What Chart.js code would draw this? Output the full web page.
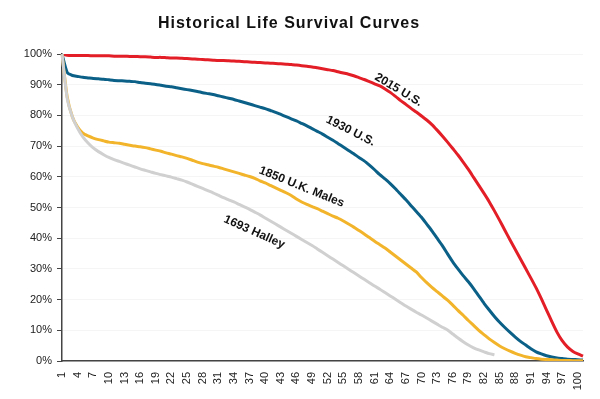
<!DOCTYPE html>
<html>
<head>
<meta charset="utf-8">
<script src="https://cdn.jsdelivr.net/npm/chart.js@4/dist/chart.umd.min.js"></script>
<style>
  html, body { margin: 0; padding: 0; background: #ffffff; }
  #wrap { width: 600px; height: 399px; position: relative; }
</style>
</head>
<body>
<div id="wrap"><canvas id="c" width="600" height="399"></canvas></div>
<script>
// Ages (categories)
const ages = [];
for (let a = 1; a <= 101; a++) ages.push(a);

const titleText = 'Historical Life Survival Curves';

const seriesNames = ['2015 U.S.', '1930 U.S.', '1850 U.K. Males', '1693 Halley'];

const us2015 = [100, 99.6, 99.5, 99.5, 99.5, 99.5, 99.4, 99.4, 99.4, 99.4,
  99.3, 99.3, 99.3, 99.2, 99.2, 99.1, 99.1, 99.0, 98.9, 98.9,
  98.8, 98.7, 98.7, 98.6, 98.5, 98.4, 98.3, 98.2, 98.1, 98.0,
  97.9, 97.9, 97.8, 97.7, 97.6, 97.5, 97.4, 97.3, 97.2, 97.1,
  97.0, 96.9, 96.8, 96.7, 96.6, 96.4, 96.2, 96.0, 95.8, 95.5,
  95.2, 94.9, 94.6, 94.2, 93.8, 93.4, 92.9, 92.3, 91.7, 91.0,
  90.3, 89.6, 88.6, 87.5, 86.2, 84.8, 83.6, 82.3, 81.1, 79.8,
  78.5, 77.0, 75.2, 73.3, 71.3, 69.2, 67.1, 64.8, 62.4, 59.8,
  57.2, 54.6, 51.9, 48.9, 45.8, 42.6, 39.4, 36.3, 33.2, 30.1,
  27.0, 23.8, 20.3, 16.6, 12.9, 9.4, 6.6, 4.6, 3.2, 2.3,
  1.6];

const us1930 = [100, 94.0, 93.0, 92.7, 92.4, 92.2, 92.0, 91.9, 91.8, 91.6,
  91.4, 91.3, 91.2, 91.1, 91.0, 90.7, 90.5, 90.3, 90.1, 89.8,
  89.5, 89.3, 89.0, 88.7, 88.4, 88.1, 87.8, 87.4, 87.1, 86.8,
  86.4, 86.0, 85.6, 85.2, 84.7, 84.2, 83.7, 83.2, 82.7, 82.2,
  81.6, 81.0, 80.3, 79.6, 78.9, 78.2, 77.4, 76.6, 75.7, 74.8,
  73.9, 72.9, 71.9, 70.8, 69.7, 68.6, 67.5, 66.3, 65.2, 63.8,
  62.3, 60.7, 59.3, 57.8, 56.1, 54.3, 52.5, 50.6, 48.7, 46.8,
  44.6, 42.4, 40.0, 37.6, 34.9, 32.3, 30.0, 27.8, 25.8, 23.6,
  21.2, 18.8, 16.6, 14.5, 12.6, 10.9, 9.3, 7.8, 6.4, 5.2,
  4.0, 3.0, 2.3, 1.7, 1.3, 1.0, 0.8, 0.6, 0.5, 0.4,
  0.3];

const uk1850Males = [100, 86.0, 79.5, 76.2, 74.2, 73.3, 72.6, 72.1, 71.7, 71.3,
  71.1, 70.9, 70.6, 70.3, 70.0, 69.8, 69.5, 69.1, 68.7, 68.3,
  67.8, 67.4, 66.9, 66.5, 66.0, 65.4, 64.8, 64.3, 63.9, 63.5,
  63.1, 62.6, 62.1, 61.6, 61.1, 60.6, 60.1, 59.5, 58.7, 58.0,
  57.2, 56.4, 55.6, 54.8, 53.9, 52.8, 51.8, 51.0, 50.3, 49.6,
  48.8, 48.0, 47.2, 46.5, 45.6, 44.6, 43.6, 42.5, 41.4, 40.2,
  39.0, 37.9, 36.8, 35.5, 34.2, 32.9, 31.6, 30.3, 29.0, 27.2,
  25.5, 24.0, 22.6, 21.2, 19.8, 18.2, 16.5, 14.9, 13.2, 11.6,
  10.0, 8.6, 7.2, 6.0, 4.9, 4.0, 3.2, 2.5, 1.9, 1.4,
  1.1, 0.8, 0.6, 0.5, 0.4, 0.3, 0.2, 0.2, 0.1, 0.1,
  0.1];

const halley1693 = [100, 85.5, 79.5, 75.8, 73.0, 71.0, 69.4, 68.2, 67.2, 66.3,
  65.6, 65.0, 64.4, 63.8, 63.2, 62.6, 62.1, 61.6, 61.1, 60.7,
  60.3, 59.9, 59.4, 58.9, 58.3, 57.6, 56.9, 56.2, 55.5, 54.8,
  54.0, 53.2, 52.5, 51.8, 51.0, 50.2, 49.4, 48.5, 47.6, 46.6,
  45.6, 44.6, 43.6, 42.6, 41.6, 40.6, 39.6, 38.6, 37.6, 36.5,
  35.4, 34.3, 33.2, 32.1, 31.0, 29.9, 28.8, 27.7, 26.6, 25.5,
  24.4, 23.4, 22.3, 21.2, 20.1, 19.0, 17.9, 16.9, 15.9, 15.0,
  14.0, 13.0, 12.0, 11.0, 10.1, 8.8, 7.5, 6.3, 5.2, 4.3,
  3.6, 3.0, 2.4, 2.0];

const yTicks = [0, 10, 20, 30, 40, 50, 60, 70, 80, 90, 100];

// Curve label anchors: [age, survival %, rotation degrees]
const labelAge = [65.6, 56.4, 47, 37.9];
const labelValue = [88.3, 74.9, 56.7, 42.0];
const labelAngle = [31, 27, 22, 24];

const colors = ['#e31e26', '#0b6088', '#f2b42b', '#d0d0d0'];

const FONT = '"Liberation Sans", Arial, sans-serif';

const titleAndLabels = {
  id: 'titleAndLabels',
  afterDraw(chart) {
    const ctx = chart.ctx;
    // title
    ctx.save();
    ctx.fillStyle = '#111';
    ctx.font = 'bold 16px ' + FONT;
    try { ctx.letterSpacing = '1px'; } catch (e) {}
    ctx.textAlign = 'center';
    ctx.textBaseline = 'alphabetic';
    ctx.fillText(titleText, 289, 28);
    ctx.restore();
  },
  afterDatasetsDraw(chart) {
    const ctx = chart.ctx;
    const xs = chart.scales.x, ys = chart.scales.y;
    ctx.save();
    ctx.fillStyle = '#111';
    ctx.font = 'bold 12px ' + FONT;
    ctx.textAlign = 'center';
    ctx.textBaseline = 'middle';
    for (let i = 0; i < seriesNames.length; i++) {
      const px = xs.getPixelForValue(labelAge[i] - 1);
      const py = ys.getPixelForValue(labelValue[i]);
      ctx.save();
      ctx.translate(px, py);
      ctx.rotate(labelAngle[i] * Math.PI / 180);
      ctx.fillText(seriesNames[i], 0, 0);
      ctx.restore();
    }
    ctx.restore();
  }
};

const seriesData = [us2015, us1930, uk1850Males, halley1693];
const drawOrder = [3, 2, 1, 0];

new Chart(document.getElementById('c'), {
  type: 'line',
  data: {
    labels: ages.map(String),
    datasets: seriesNames.map((n, i) => ({
      label: n,
      data: seriesData[i],
      borderColor: colors[i],
      backgroundColor: colors[i],
      borderWidth: 3,
      pointRadius: 0,
      tension: 0.2,
      fill: false,
      spanGaps: false,
      order: drawOrder[i]
    }))
  },
  options: {
    responsive: false,
    animation: false,
    devicePixelRatio: 1,
    layout: { padding: { left: 0, right: 17, top: 54, bottom: 0 } },
    plugins: {
      legend: { display: false },
      tooltip: { enabled: false },
      title: { display: false }
    },
    scales: {
      x: {
        type: 'category',
        offset: false,
        grid: { display: false },
        border: { display: true, color: '#444', width: 1.5 },
        ticks: {
          autoSkip: false,
          maxRotation: 90,
          minRotation: 90,
          padding: 3,
          color: '#222',
          font: { family: FONT, size: 11 },
          callback: (v, i) => (i % 3 === 0 ? ages[i] : '')
        },
        afterFit: (s) => { s.height = 38; }
      },
      y: {
        min: 0,
        max: 100,
        afterBuildTicks: (s) => { s.ticks = yTicks.map(v => ({ value: v })); },
        grid: { color: '#f5f5f5', tickColor: '#444', tickLength: 5, lineWidth: 1 },
        border: { display: true, color: '#444', width: 1.5 },
        ticks: {
          padding: 5,
          color: '#222',
          font: { family: FONT, size: 11 },
          callback: (v) => v + '%'
        },
        afterFit: (s) => { s.width = 62; }
      }
    }
  },
  plugins: [titleAndLabels]
});
</script>
</body>
</html>
